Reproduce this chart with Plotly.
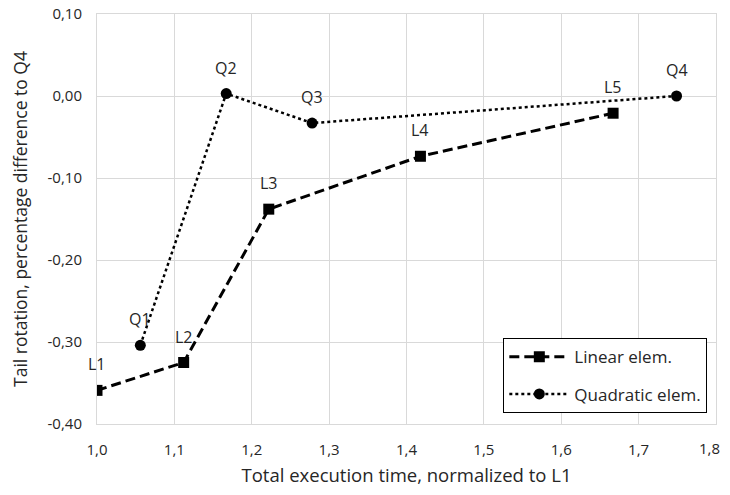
import plotly.graph_objects as go

# Data
linear_labels = ["L1", "L2", "L3", "L4", "L5"]
linear_x = [1.000, 1.112, 1.222, 1.418, 1.667]
linear_y = [-0.359, -0.325, -0.138, -0.0735, -0.021]

quad_labels = ["Q1", "Q2", "Q3", "Q4"]
quad_x = [1.056, 1.167, 1.278, 1.749]
quad_y = [-0.304, 0.003, -0.033, 0.000]

x_ticks = [1.0, 1.1, 1.2, 1.3, 1.4, 1.5, 1.6, 1.7, 1.8]
x_ticktext = ["1,0", "1,1", "1,2", "1,3", "1,4", "1,5", "1,6", "1,7", "1,8"]
y_ticks = [0.10, 0.00, -0.10, -0.20, -0.30, -0.40]
y_ticktext = ["0,10", "0,00", "-0,10", "-0,20", "-0,30", "-0,40"]

FONT = "'Open Sans', sans-serif"
grid = "#d9d9d9"
txt = "#262626"

fig = go.Figure()
fig.add_trace(go.Scatter(
    x=linear_x, y=linear_y, mode="lines+markers", name="Linear elem.",
    legendgroup="lin",
    line=dict(color="black", width=3, dash="10px,5px"),
    marker=dict(symbol="square", size=11, color="black"),
))
fig.add_trace(go.Scatter(
    x=quad_x, y=quad_y, mode="lines+markers", name="Quadratic elem.",
    legendgroup="quad",
    line=dict(color="black", width=2.5, dash="dot"),
    marker=dict(symbol="circle", size=11, color="black"),
))

for lbls, xs, ys in [(linear_labels, linear_x, linear_y), (quad_labels, quad_x, quad_y)]:
    for t, xv, yv in zip(lbls, xs, ys):
        fig.add_annotation(x=xv, y=yv, text=t, showarrow=False, yshift=26,
                           font=dict(family=FONT, size=16, color=txt))

# last x tick label drawn as an annotation, nudged so it stays inside the page
axis_ticktext = x_ticktext[:-1] + [""]
fig.add_annotation(x=x_ticks[-1], y=0, xref="x", yref="paper", yanchor="top",
                   xanchor="right", xshift=6, yshift=-12, showarrow=False,
                   text=x_ticktext[-1], font=dict(family=FONT, size=15, color=txt))

fig.update_layout(
    width=722, height=479,
    margin=dict(l=89, r=14, t=6, b=63, autoexpand=False),
    paper_bgcolor="white", plot_bgcolor="white",
    font=dict(family=FONT, size=15, color=txt),
    showlegend=True,
    legend=dict(
        x=0.9855, y=0.027, xanchor="right", yanchor="bottom",
        bordercolor="black", borderwidth=1.3, bgcolor="white",
        font=dict(family=FONT, size=17, color=txt),
        tracegroupgap=12, itemwidth=60,
    ),
)
fig.update_xaxes(
    range=[1.0, 1.8], tickvals=x_ticks, ticktext=axis_ticktext,
    showgrid=True, gridcolor=grid, gridwidth=1,
    showline=True, linecolor=grid, mirror=True, zeroline=False,
    ticks="", automargin=False, ticklabeloverflow="allow",
    ticklabelstandoff=12,
    title=dict(text="Total execution time, normalized to L1", standoff=14,
               font=dict(family=FONT, size=18.5, color=txt)),
    tickfont=dict(family=FONT, size=15, color=txt),
)
fig.update_yaxes(
    range=[-0.40, 0.10], tickvals=y_ticks, ticktext=y_ticktext,
    showgrid=True, gridcolor=grid, gridwidth=1,
    showline=True, linecolor=grid, mirror=True, zeroline=False,
    ticks="", automargin=False, ticklabeloverflow="allow",
    ticklabelstandoff=11,
    title=dict(text="Tail rotation, percentage difference to Q4",
               font=dict(family=FONT, size=17.5, color=txt)),
    tickfont=dict(family=FONT, size=15, color=txt),
)

fig.write_html("out.html")
